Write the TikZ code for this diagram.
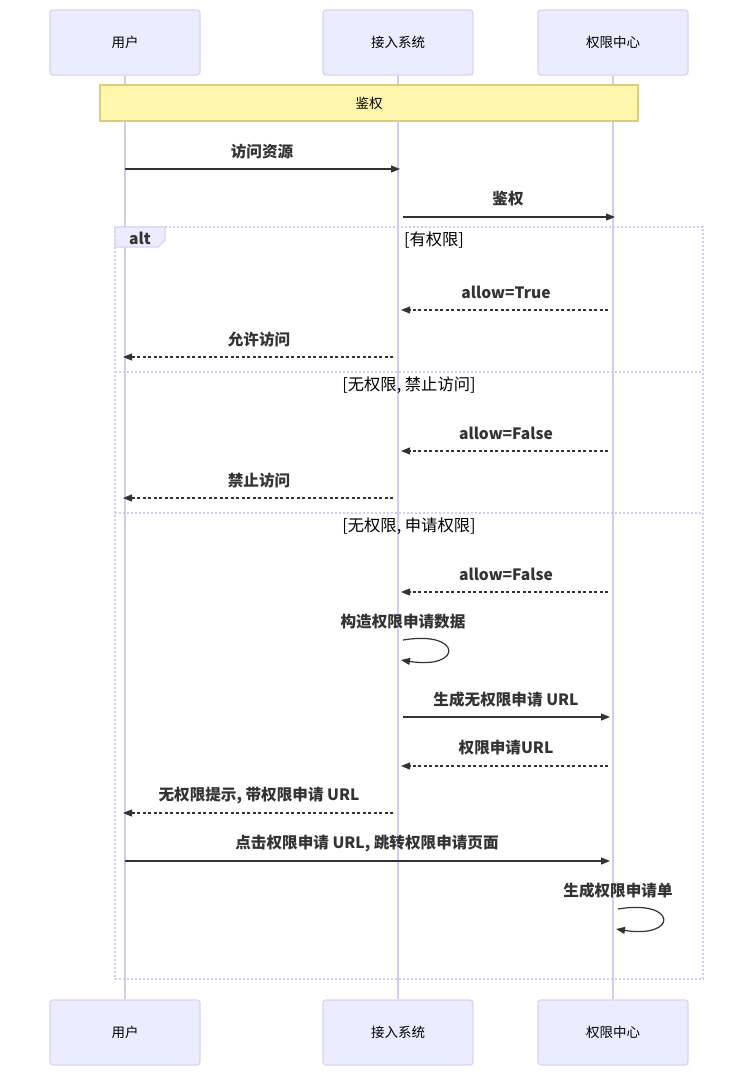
\documentclass[tikz,border=0pt]{standalone}
\usepackage{fontspec}
\setmainfont{Noto Sans CJK SC}
\usetikzlibrary{arrows.meta}
\definecolor{actfill}{HTML}{ECECFF}
\definecolor{actline}{HTML}{D9D2F5}
\definecolor{lifeline}{HTML}{D3CBF2}
\definecolor{notefill}{HTML}{FFF5AD}
\definecolor{noteline}{HTML}{D6D07A}
\definecolor{msg}{HTML}{333333}
\tikzset{
  actor/.style={draw=actline, fill=actfill, line width=1.2pt, rounded corners=3pt, minimum width=150pt, minimum height=65pt, inner sep=0pt, font=\fontsize{13.5}{15}\selectfont},
  life/.style={draw=lifeline, line width=1.5pt},
  msgtext/.style={font=\bfseries\fontsize{15.6}{17}\selectfont, text=msg, inner sep=0pt},
  solidmsg/.style={draw=msg, line width=1.2pt, -{Triangle[length=9pt,width=7pt]}},
  dashmsg/.style={draw=msg, line width=1.2pt, dash pattern=on 3pt off 2.5pt, -{Triangle[length=9pt,width=7pt]}},
  selfmsg/.style={draw=msg, line width=1.2pt, -{Triangle[length=9pt,width=7pt]}},
  altline/.style={draw=lifeline, line width=1.2pt, dash pattern=on 2pt off 2pt},
  sectext/.style={font=\fontsize{16.3}{18}\selectfont, text=black, inner sep=0pt},
}
\begin{document}
\begin{tikzpicture}[x=1pt,y=-1pt]
\useasboundingbox (0,0) rectangle (753,1076);
\fill[white] (0,0) rectangle (753,1076);
% actors
\node[actor] (u1) at (125,42.5) {用户};
\node[actor] (g1) at (398,42.5) {接入系统};
\node[actor] (p1) at (613,42.5) {权限中心};
\node[actor] (u2) at (125,1032.5) {用户};
\node[actor] (g2) at (398,1032.5) {接入系统};
\node[actor] (p2) at (613,1032.5) {权限中心};
\draw[life] (u1.south) -- (u2.north);
\draw[life] (g1.south) -- (g2.north);
\draw[life] (p1.south) -- (p2.north);
% note
\node[draw=noteline, fill=notefill, line width=1.2pt, minimum width=538pt, minimum height=36pt, inner sep=0pt, font=\fontsize{13.5}{15}\selectfont] (note) at (369,103) {鉴权};
% alt box
\draw[altline] (115,227) rectangle (703,979);
\draw[altline] (115,372) -- (703,372);
\draw[altline] (115,513) -- (703,513);
\filldraw[fill=actfill, draw=actline, line width=1.2pt] (115,227) -- (165,227) -- (165,240) -- (158,247) -- (115,247) -- cycle;
\node[font=\fontsize{15.6}{17}\selectfont\bfseries, text=msg, inner sep=0pt] (altlab) at (140,238.5) {alt};
\node[sectext] (s1) at (434,240) {[有权限]};
\node[sectext] (s2) at (409,385.5) {[无权限, 禁止访问]};
\node[sectext] (s3) at (409,526.5) {[无权限, 申请权限]};
% message endpoints
\coordinate (a1) at (125,169); \coordinate (b1) at (400,169);
\coordinate (a2) at (403,217); \coordinate (b2) at (615,217);
\coordinate (a3) at (608,310); \coordinate (b3) at (401,310);
\coordinate (a4) at (393,357); \coordinate (b4) at (123,357);
\coordinate (a5) at (608,451); \coordinate (b5) at (401,451);
\coordinate (a6) at (393,498); \coordinate (b6) at (123,498);
\coordinate (a7) at (608,592); \coordinate (b7) at (401,592);
\coordinate (a8) at (403,640); \coordinate (b8) at (401,660);
\coordinate (a9) at (403,717); \coordinate (b9) at (610,717);
\coordinate (a10) at (608,766); \coordinate (b10) at (401,766);
\coordinate (a11) at (393,813); \coordinate (b11) at (123,813);
\coordinate (a12) at (125,861); \coordinate (b12) at (610,861);
\coordinate (a13) at (618,909); \coordinate (b13) at (616,929);
% messages
\draw[solidmsg] (a1) -- (b1);
\node[msgtext] (t1) at (262,152) {访问资源};
\draw[solidmsg] (a2) -- (b2);
\node[msgtext] (t2) at (508,199) {鉴权};
\draw[dashmsg] (a3) -- (b3);
\node[msgtext] (t3) at (506,292) {allow=True};
\draw[dashmsg] (a4) -- (b4);
\node[msgtext] (t4) at (259,340) {允许访问};
\draw[dashmsg] (a5) -- (b5);
\node[msgtext] (t5) at (506,433) {allow=False};
\draw[dashmsg] (a6) -- (b6);
\node[msgtext] (t6) at (259,481) {禁止访问};
\draw[dashmsg] (a7) -- (b7);
\node[msgtext] (t7) at (506,574) {allow=False};
\draw[selfmsg] (a8) .. controls (463,630) and (463,670) .. (b8);
\node[msgtext] (t8) at (403,622) {构造权限申请数据};
\draw[solidmsg] (a9) -- (b9);
\node[msgtext] (t9) at (506,700) {生成无权限申请 URL};
\draw[dashmsg] (a10) -- (b10);
\node[msgtext] (t10) at (506,748) {权限申请URL};
\draw[dashmsg] (a11) -- (b11);
\node[msgtext] (t11) at (259,796) {无权限提示, 带权限申请 URL};
\draw[solidmsg] (a12) -- (b12);
\node[msgtext] (t12) at (367,844) {点击权限申请 URL, 跳转权限申请页面};
\draw[selfmsg] (a13) .. controls (678,899) and (678,939) .. (b13);
\node[msgtext] (t13) at (618,891) {生成权限申请单};
\end{tikzpicture}
\end{document}
